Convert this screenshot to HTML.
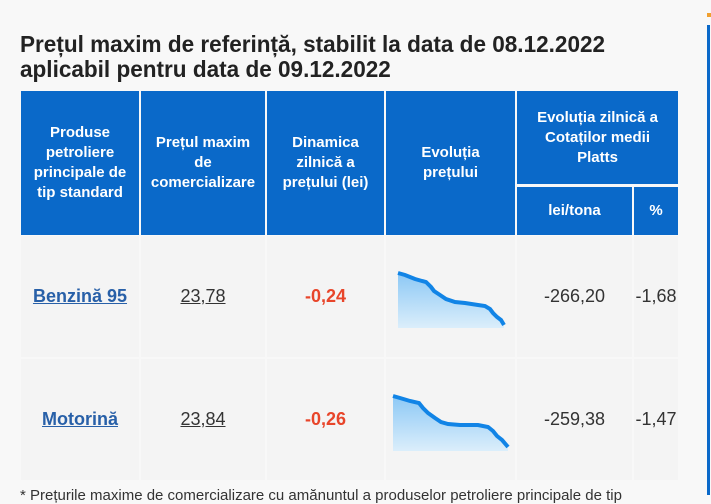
<!DOCTYPE html>
<html><head><meta charset="utf-8"><style>
body{margin:0;width:711px;height:495px;background:#f8f8f8;position:relative;overflow:hidden;font-family:"Liberation Sans",sans-serif}
.a{position:absolute}
h1{position:absolute;left:20px;top:32px;margin:0;font-size:23px;line-height:25px;font-weight:bold;color:#222;transform:scaleX(0.98);transform-origin:left;white-space:nowrap}
.h{position:absolute;background:#0a69c9;color:#fff;font-weight:bold;font-size:15px;line-height:20px;display:flex;align-items:center;justify-content:center;text-align:center;transform-origin:center}
.c{position:absolute;background:#f4f4f4;display:flex;align-items:center;justify-content:center;font-size:18px;color:#333}
.lk{color:#2860a8;font-weight:bold;text-decoration:underline}
.r{color:#e8452a;font-weight:bold}
</style></head><body>
<h1>Prețul maxim de referință, stabilit la data de 08.12.2022<br>aplicabil pentru data de 09.12.2022</h1>
<div class="h" style="left:21px;top:91px;width:118px;height:144px">Produse<br>petroliere<br>principale de<br>tip standard</div>
<div class="h" style="left:141px;top:91px;width:124px;height:144px">Prețul maxim<br>de<br>comercializare</div>
<div class="h" style="left:267px;top:91px;width:117px;height:144px">Dinamica<br>zilnică a<br>prețului (lei)</div>
<div class="h" style="left:386px;top:91px;width:129px;height:144px">Evoluția<br>prețului</div>
<div class="h" style="left:517px;top:91px;width:161px;height:93px">Evoluția zilnică a<br>Cotaților medii<br>Platts</div>
<div class="h" style="left:517px;top:187px;width:115px;height:48px">lei/tona</div>
<div class="h" style="left:634px;top:187px;width:44px;height:48px">%</div>

<div class="c" style="left:21px;top:236px;width:118px;height:121px"><span class="lk">Benzină 95</span></div>
<div class="c" style="left:141px;top:236px;width:124px;height:121px"><u>23,78</u></div>
<div class="c r" style="left:267px;top:236px;width:117px;height:121px"><span class="r">-0,24</span></div>
<div class="c" style="left:386px;top:236px;width:129px;height:121px"></div>
<div class="c" style="left:517px;top:236px;width:115px;height:121px">-266,20</div>
<div class="c" style="left:634px;top:236px;width:44px;height:121px">-1,68</div>

<div class="c" style="left:21px;top:359px;width:118px;height:121px"><span class="lk">Motorină</span></div>
<div class="c" style="left:141px;top:359px;width:124px;height:121px"><u>23,84</u></div>
<div class="c" style="left:267px;top:359px;width:117px;height:121px"><span class="r">-0,26</span></div>
<div class="c" style="left:386px;top:359px;width:129px;height:121px"></div>
<div class="c" style="left:517px;top:359px;width:115px;height:121px">-259,38</div>
<div class="c" style="left:634px;top:359px;width:44px;height:121px">-1,47</div>

<svg class="a" style="left:0;top:0" width="711" height="495">
<defs><linearGradient id="g" x1="0" y1="0" x2="0" y2="1"><stop offset="0" stop-color="#8cc8f5"/><stop offset="1" stop-color="#dbeefb"/></linearGradient></defs>
<path d="M398,273 L405,275 L415,279 L422,281 L426,282 L431,287 L434,291 L440,295 L446,299 L455,302 L465,303 L478,305 L485,306 L490,309 L493,313 L497,317 L501,320 L504,325 L504,328 L398,328Z" fill="url(#g)"/>
<path d="M398,273 L405,275 L415,279 L422,281 L426,282 L431,287 L434,291 L440,295 L446,299 L455,302 L465,303 L478,305 L485,306 L490,309 L493,313 L497,317 L501,320 L504,325" fill="none" stroke="#1184e6" stroke-width="4"/>
<path d="M393,396 L400,398 L410,401 L419,403 L423,408 L428,413 L435,418 L441,422 L448,424 L460,425 L478,425 L488,427 L493,431 L497,436 L502,440 L508,447 L508,451 L393,451Z" fill="url(#g)"/>
<path d="M393,396 L400,398 L410,401 L419,403 L423,408 L428,413 L435,418 L441,422 L448,424 L460,425 L478,425 L488,427 L493,431 L497,436 L502,440 L508,447" fill="none" stroke="#1184e6" stroke-width="4"/>
<rect x="707" y="25" width="3" height="470" fill="#0a69c9"/>
<rect x="707" y="13" width="4" height="4" fill="#f0a030"/>
</svg>
<div class="a" style="left:20px;top:487px;font-size:15px;color:#333;white-space:nowrap">* Prețurile maxime de comercializare cu amănuntul a produselor petroliere principale de tip</div>
</body></html>
